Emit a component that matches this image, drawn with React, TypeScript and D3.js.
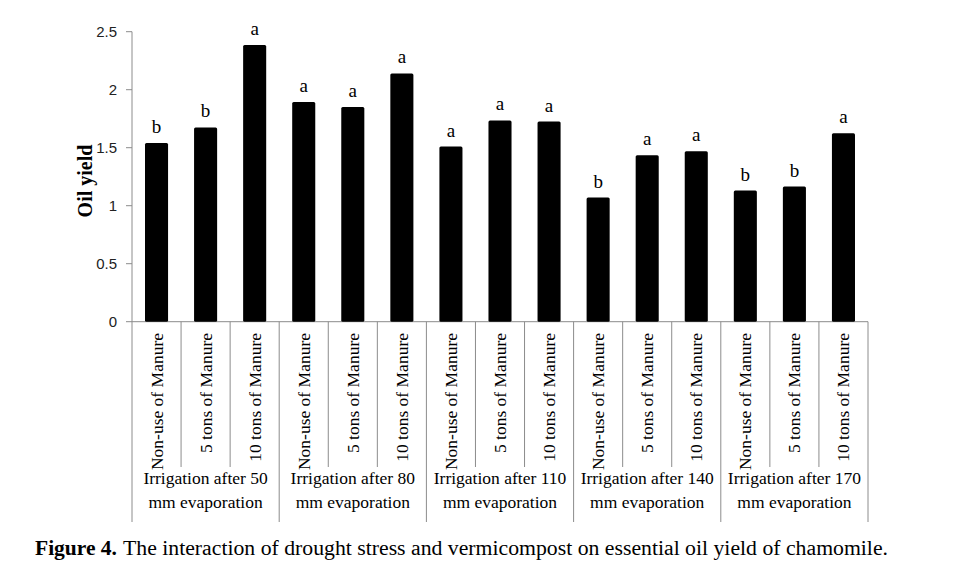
import React from "react";
import * as d3 from "d3";

const groups = [
  ["Irrigation after 50", "mm evaporation"],
  ["Irrigation after 80", "mm evaporation"],
  ["Irrigation after 110", "mm evaporation"],
  ["Irrigation after 140", "mm evaporation"],
  ["Irrigation after 170", "mm evaporation"],
];
const treatments = ["Non-use of Manure", "5 tons of Manure", "10 tons of Manure"];
const values = [1.54, 1.675, 2.385, 1.895, 1.85, 2.14, 1.51, 1.735, 1.725, 1.07, 1.435, 1.47, 1.13, 1.165, 1.625];
const letters = ["b", "b", "a", "a", "a", "a", "a", "a", "a", "b", "a", "a", "b", "b", "a"];
const yTicks = [0, 0.5, 1, 1.5, 2, 2.5];
const captionBold = "Figure 4.";
const captionRest = "The interaction of drought stress and vermicompost on essential oil yield of chamomile.";

export default function App() {
  const W = 955, H = 562;
  const x0 = 132, x1 = 868, yTop = 31.7, yBot = 321.7;
  const n = values.length;
  const x = d3.scaleBand<number>().domain(d3.range(n)).range([x0, x1]).paddingInner(0.53).paddingOuter(0.265);
  const y = d3.scaleLinear().domain([0, 2.5]).range([yBot, yTop]);
  const step = x.step();
  const axisColor = "#8c8c8c";
  const serif = "'Liberation Serif', 'Times New Roman', serif";

  return (
    <svg width={W} height={H} style={{ position: "absolute", left: 0, top: 0, background: "#fff" }}>
      {/* y axis */}
      <line x1={x0} x2={x0} y1={yTop} y2={522} stroke={axisColor} strokeWidth={1} />
      {yTicks.map((t) => (
        <g key={t}>
          <line x1={x0 - 6} x2={x0} y1={y(t)} y2={y(t)} stroke={axisColor} />
          <text x={117} y={y(t)} dy="0.36em" textAnchor="end" fontFamily="'Liberation Sans', Arial, sans-serif" fontSize={15} fill="#222">
            {t}
          </text>
        </g>
      ))}
      <text transform={`translate(92,181) rotate(-90)`} textAnchor="middle" fontFamily={serif} fontWeight="bold" fontSize={20} fill="#000">
        Oil yield
      </text>
      {/* x axis */}
      <line x1={x0} x2={x1} y1={yBot} y2={yBot} stroke={axisColor} />
      {d3.range(1, n + 1).map((i) => {
        const xx = x0 + i * step;
        const isGroup = i % 3 === 0;
        return <line key={i} x1={xx} x2={xx} y1={yBot} y2={isGroup ? 522 : 467} stroke={axisColor} />;
      })}
      {/* bars */}
      {values.map((v, i) => (
        <g key={i}>
          <rect x={x(i)} y={y(v)} width={x.bandwidth()} height={yBot - y(v)} fill="#000" rx={1.5} />
          <text x={(x(i) as number) + x.bandwidth() / 2} y={y(v) - 10} textAnchor="middle" fontFamily={serif} fontSize={19} fill="#000">
            {letters[i]}
          </text>
        </g>
      ))}
      {/* category labels */}
      {values.map((_, i) => {
        const cx = (x(i) as number) + x.bandwidth() / 2;
        return (
          <text key={i} transform={`translate(${cx + 6},333) rotate(-90)`} textAnchor="end" fontFamily={serif} fontSize={17.5} fill="#000">
            {treatments[i % 3]}
          </text>
        );
      })}
      {/* group labels */}
      {groups.map((g, gi) => {
        const cx = x0 + (gi * 3 + 1.5) * step;
        return (
          <text key={gi} textAnchor="middle" fontFamily={serif} fontSize={17.5} fill="#000">
            <tspan x={cx} y={484}>{g[0]}</tspan>
            <tspan x={cx} y={508}>{g[1]}</tspan>
          </text>
        );
      })}
      {/* caption */}
      <text x={35} y={555} fontFamily={serif} fontSize={20} fontWeight="bold" fill="#000" textLength={82} lengthAdjust="spacingAndGlyphs">
        {captionBold}
      </text>
      <text x={123} y={555} fontFamily={serif} fontSize={20} fill="#000" textLength={765} lengthAdjust="spacingAndGlyphs">
        {captionRest}
      </text>
    </svg>
  );
}
